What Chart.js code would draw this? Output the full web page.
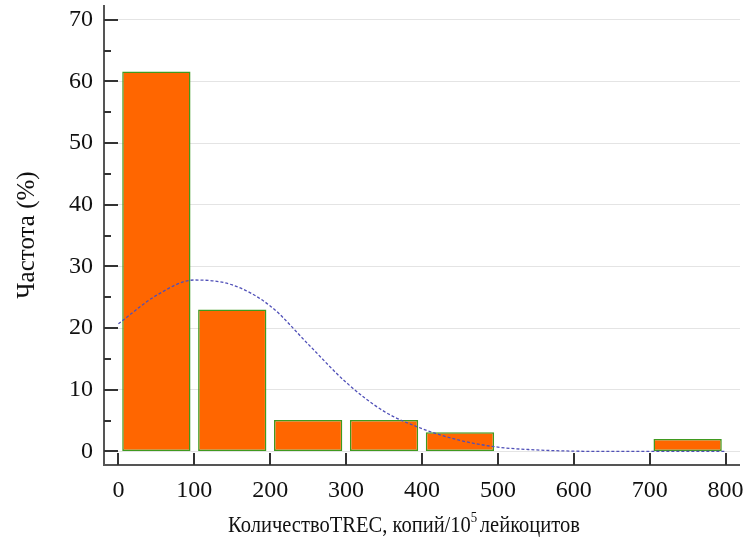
<!DOCTYPE html>
<html lang="ru">
<head>
  <meta charset="UTF-8" />
  <title>Частота TREC</title>
  <script src="https://cdn.jsdelivr.net/npm/chart.js"></script>
  <style>
    html, body { margin: 0; padding: 0; background: #fff; }
    #wrap { width: 749px; height: 542px; }
  </style>
</head>
<body>
  <div id="wrap"><canvas id="histChart" width="749" height="542"></canvas></div>

  <script>
    // интервалы гистограммы (центры) и частоты, %
    const binCenters = [50, 150, 250, 350, 450, 550, 650, 750];
    const freqs = [61.6, 23.0, 5.1, 5.1, 3.1, 0, 0, 2.0];

    // кривая нормального распределения
    const curveX = [0, 50, 100, 150, 200, 250, 300, 350, 400, 450, 500, 550, 600, 650, 700, 750, 800];
    const curveY = [20.7, 25.3, 27.8, 27.0, 23.6, 17.4, 11.2, 6.5, 3.7, 1.8, 0.7, 0.25, 0.05, 0, 0, 0, 0];

    const xTicks = [0, 100, 200, 300, 400, 500, 600, 700, 800];
    const yTicks = [0, 10, 20, 30, 40, 50, 60, 70];
    const yMinor = [5, 15, 25, 35, 45, 55, 65];

    // подпись оси X: текст, степень, продолжение
    const xTitle = ['КоличествоTREC, копий/10', '5', 'лейкоцитов'];

    const serif = "'Liberation Serif', 'Times New Roman', serif";

    // оси, засечки внутрь области графика и подпись оси X со степенью
    const axesPlugin = {
      id: 'axes',
      afterDraw(chart) {
        const ctx = chart.ctx;
        const a = chart.chartArea;
        const x = chart.scales.x, y = chart.scales.y;
        ctx.save();
        ctx.strokeStyle = '#555';
        ctx.lineWidth = 2;
        ctx.beginPath();
        ctx.moveTo(a.left, a.top);
        ctx.lineTo(a.left, a.bottom);
        ctx.lineTo(a.right, a.bottom);
        ctx.stroke();
        ctx.strokeStyle = '#333';
        ctx.beginPath();
        yTicks.forEach(v => {
          const py = Math.round(y.getPixelForValue(v));
          ctx.moveTo(a.left, py);
          ctx.lineTo(a.left + 14, py);
        });
        yMinor.forEach(v => {
          const py = Math.round(y.getPixelForValue(v));
          ctx.moveTo(a.left, py);
          ctx.lineTo(a.left + 7, py);
        });
        xTicks.forEach(v => {
          const px = Math.round(x.getPixelForValue(v));
          ctx.moveTo(px, a.bottom);
          ctx.lineTo(px, a.bottom - 12);
        });
        ctx.stroke();

        // подпись оси X
        const big = '24px ' + serif, small = '15px ' + serif;
        ctx.font = big;
        const w1 = ctx.measureText(xTitle[0]).width;
        const w3 = ctx.measureText(xTitle[2]).width;
        ctx.font = small;
        const w2 = ctx.measureText(xTitle[1]).width + 3;
        const total = w1 + w2 + w3;
        const target = 352;
        const base = 532;
        ctx.translate(228, base);
        ctx.scale(target / total, 1);
        ctx.fillStyle = '#111';
        ctx.textBaseline = 'alphabetic';
        ctx.textAlign = 'left';
        ctx.font = big;
        ctx.fillText(xTitle[0], 0, 0);
        ctx.font = small;
        ctx.fillText(xTitle[1], w1, -10);
        ctx.font = big;
        ctx.fillText(xTitle[2], w1 + w2, 0);
        ctx.restore();
      }
    };

    new Chart(document.getElementById('histChart'), {
      type: 'bar',
      data: {
        datasets: [
          {
            type: 'line',
            label: 'Нормальное распределение',
            data: curveX.map((v, i) => ({ x: v, y: curveY[i] })),
            borderColor: '#5050b8',
            borderWidth: 1.3,
            borderDash: [3, 2],
            pointRadius: 0,
            fill: false,
            cubicInterpolationMode: 'monotone',
            order: 0
          },
          {
            label: 'Частота',
            data: binCenters.map((v, i) => ({ x: v, y: freqs[i] })),
            backgroundColor: '#ff6600',
            borderColor: '#3f9a1f',
            borderWidth: 1.5,
            borderSkipped: false,
            barPercentage: 0.9,
            categoryPercentage: 1,
            order: 1
          }
        ]
      },
      options: {
        responsive: false,
        animation: false,
        layout: { padding: { top: 5, right: 9, left: 0, bottom: 0 } },
        plugins: { legend: { display: false }, tooltip: { enabled: false } },
        scales: {
          x: {
            type: 'linear',
            min: -19,
            max: 819,
            offset: false,
            afterBuildTicks: s => { s.ticks = xTicks.map(v => ({ value: v })); },
            afterFit: s => { s.height = 77; s.paddingLeft = 0; s.paddingRight = 0; },
            grid: { display: false, drawTicks: false },
            border: { display: false },
            ticks: { padding: 11, color: '#111', font: { family: serif, size: 24 } }
          },
          y: {
            min: -2.2,
            max: 72.4,
            afterBuildTicks: s => { s.ticks = yTicks.map(v => ({ value: v })); },
            afterFit: s => { s.width = 104; s.paddingTop = 0; s.paddingBottom = 0; },
            grid: { color: '#e4e4e4', lineWidth: 1, drawTicks: false },
            border: { display: false },
            ticks: { padding: 11, color: '#111', font: { family: serif, size: 24 } },
            title: {
              display: true,
              text: 'Частота (%)',
              color: '#111',
              font: { family: serif, size: 25 },
              padding: { top: 12, bottom: 0 }
            }
          }
        }
      },
      plugins: [axesPlugin]
    });
  </script>
</body>
</html>
